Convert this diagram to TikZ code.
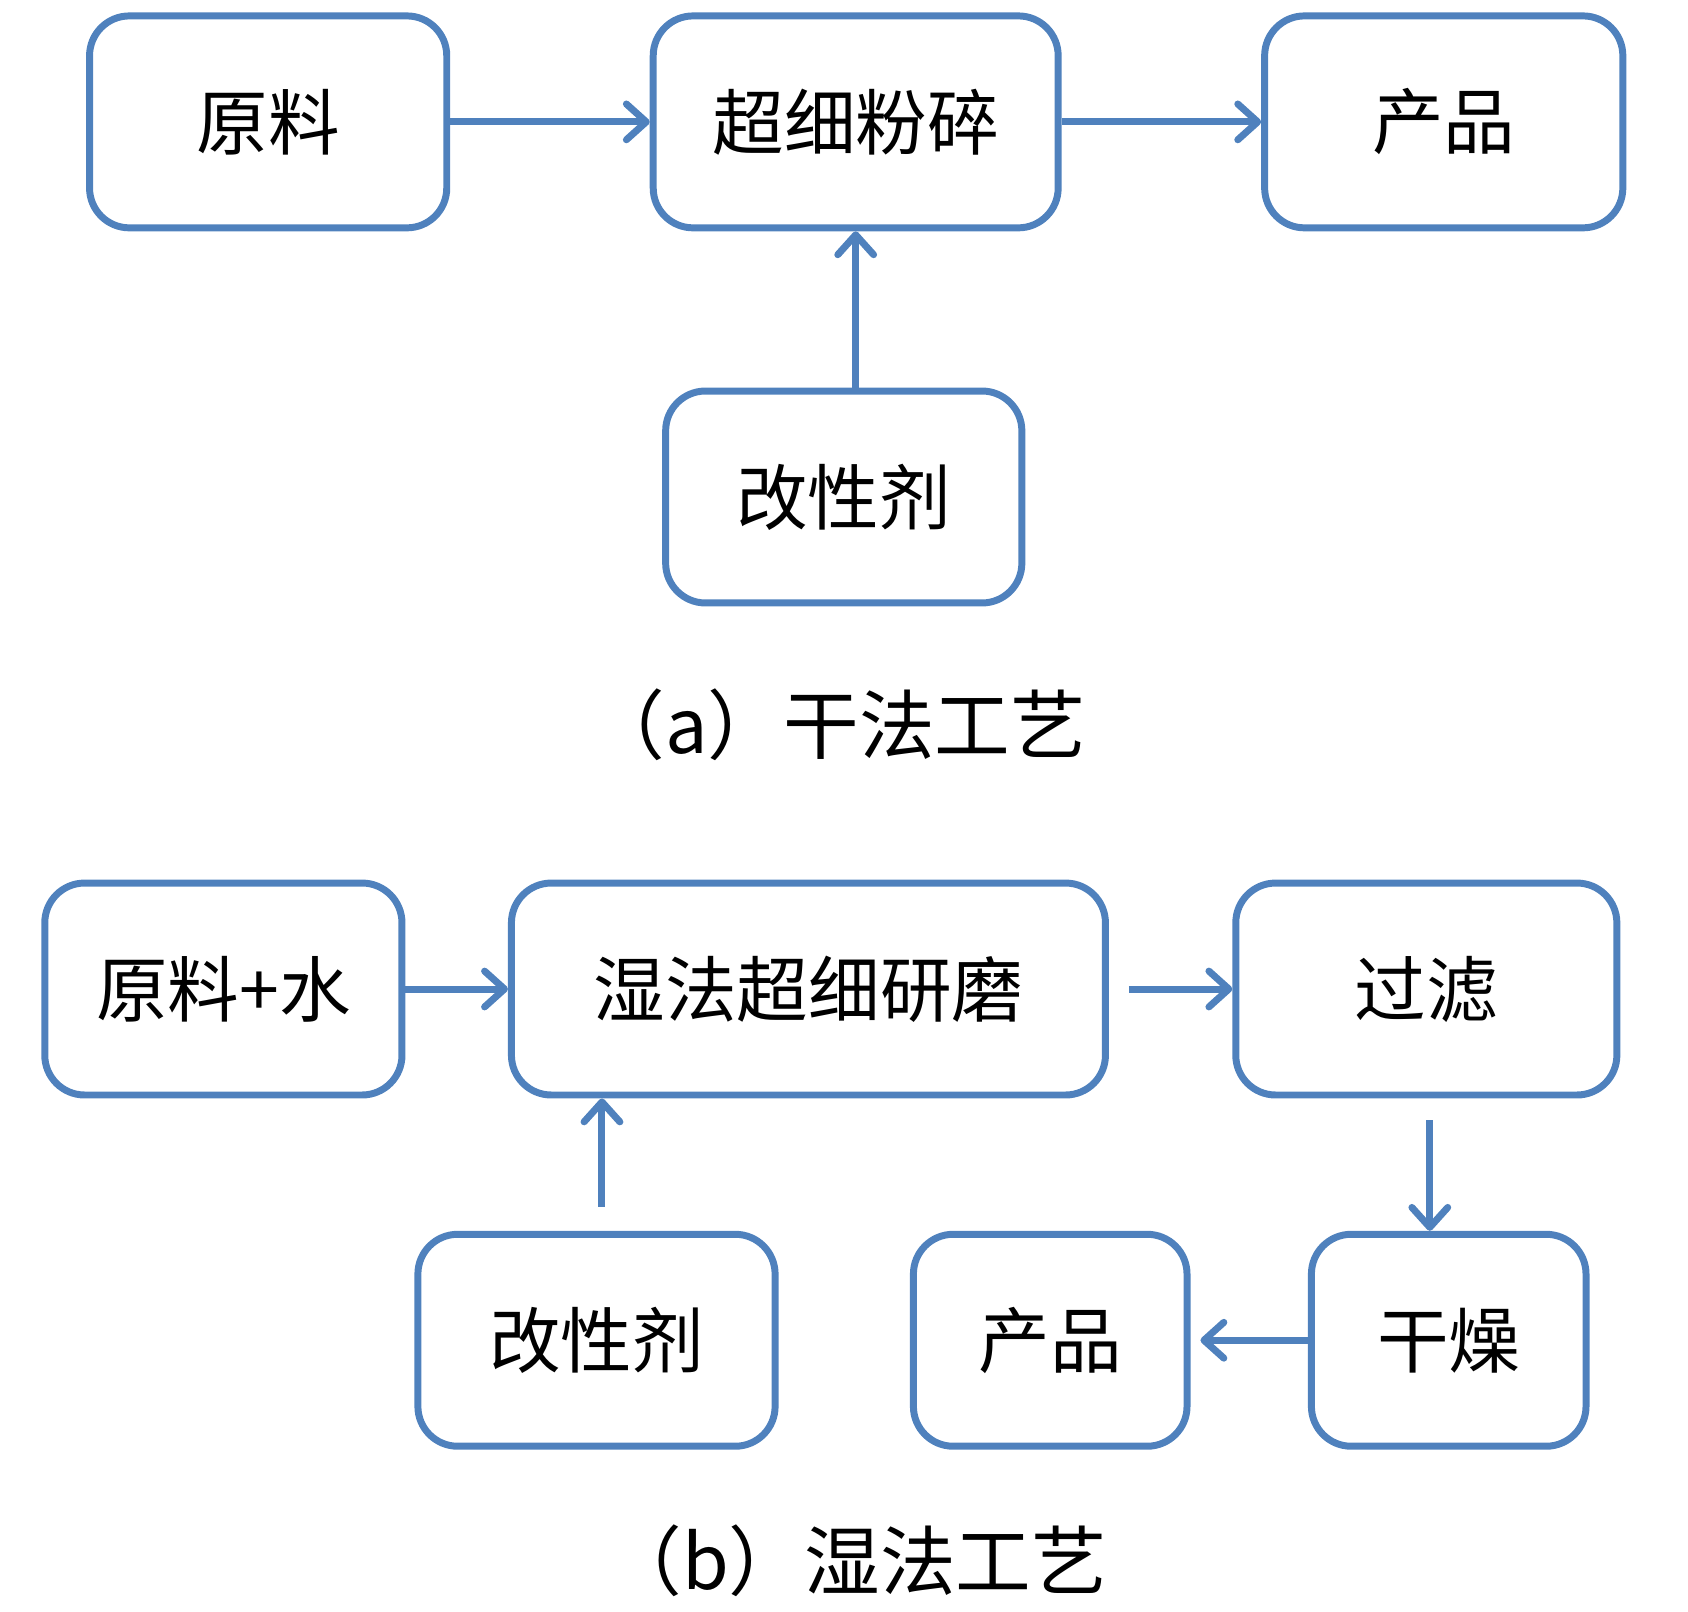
\documentclass[tikz,border=0pt]{standalone}
\usepackage{fontspec}
\setmainfont{Noto Sans CJK SC}
\usetikzlibrary{arrows.meta}
\definecolor{boxblue}{RGB}{79,129,189}
\begin{document}
\begin{tikzpicture}[x=0.5pt, y=-0.5pt,
  stage/.style={draw=boxblue, line width=3.5pt, rounded corners=20pt,
    minimum height=106.5pt, inner sep=0pt, font=\fontsize{36pt}{40pt}\selectfont},
  flow/.style={draw=boxblue, line width=3.5pt,
    -{Straight Barb[length=10pt, width=18pt, round]}},
  caption/.style={font=\fontsize{38pt}{44pt}\selectfont}]
\useasboundingbox (0,0) rectangle (1696.5,1620);
% (a) dry process
\node[stage, minimum width=179.5pt] (raw)   at (269.5,122.5) {原料};
\node[stage, minimum width=203.5pt] (mill)  at (860,122.5)   {超细粉碎};
\node[stage, minimum width=180pt]   (prodA) at (1451,122.5)  {产品};
\node[stage, minimum width=179pt]   (modA)  at (848,499.5)   {改性剂};
\node[caption] (capA) at (842,728) {（a）干法工艺};
\draw[flow] (raw) -- (mill);
\draw[flow] (mill) -- (prodA);
\draw[flow] (mill.south |- modA.north) -- (mill.south);
% (b) wet process
\node[stage, minimum width=179.5pt] (rawB)   at (224.5,994)  {原料+水};
\node[stage, minimum width=298.5pt] (grind)  at (812.5,994)  {湿法超细研磨};
\node[stage, minimum width=191.5pt] (filter) at (1433.5,994) {过滤};
\node[stage, minimum width=179.5pt] (modB)   at (599.5,1347) {改性剂};
\node[stage, minimum width=137.5pt] (prodB)  at (1055.5,1347) {产品};
\node[stage, minimum width=138pt]   (dry)    at (1456,1347)  {干燥};
\node[caption] (capB) at (861,1569) {（b）湿法工艺};
\draw[flow] (rawB) -- (grind);
\draw[flow, shorten <=10pt] (grind) -- (filter);
\draw[flow, shorten <=11pt] ([xshift=1.75pt]filter.south) -- ([xshift=1.75pt]filter.south |- dry.north);
\draw[flow, shorten <=12pt] ([xshift=2.75pt]modB.north) -- ([xshift=2.75pt]modB.north |- grind.south);
\draw[flow, shorten >=5pt] (dry) -- (prodB);
\end{tikzpicture}
\end{document}
